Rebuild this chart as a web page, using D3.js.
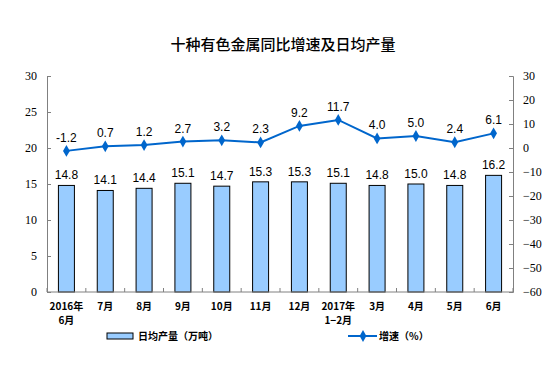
<!DOCTYPE html>
<html><head><meta charset="utf-8">
<script src="https://cdn.jsdelivr.net/npm/d3@7"></script>
<style>body{margin:0;background:#fff}svg{display:block}</style>
</head><body>
<script>
const categories = [["2016年","6月"],["7月"],["8月"],["9月"],["10月"],["11月"],["12月"],["2017年","1−2月"],["3月"],["4月"],["5月"],["6月"]];
const output = [14.8,14.1,14.4,15.1,14.7,15.3,15.3,15.1,14.8,15.0,14.8,16.2];
const growth = [-1.2,0.7,1.2,2.7,3.2,2.3,9.2,11.7,4.0,5.0,2.4,6.1];
const leftTicks = [0,5,10,15,20,25,30];
const rightTicks = [-60,-50,-40,-30,-20,-10,0,10,20,30];

const W=550,H=367;
const svg=d3.select("body").append("svg").attr("width",W).attr("height",H);
const L=47,R=513,T=76,B=292;
const x=d3.scaleBand().domain(d3.range(categories.length)).range([L,R]);
const yL=d3.scaleLinear().domain([0,30]).range([B,T]);
const yR=d3.scaleLinear().domain([-60,30]).range([B,T]);
const cjk="'Noto Sans CJK SC', sans-serif";
const numF="'Liberation Serif','Times New Roman',serif";

svg.append("text").attr("x",283).attr("y",50).attr("text-anchor","middle")
  .style("font-family",cjk).style("font-size","15px").style("font-weight","500").text("十种有色金属同比增速及日均产量");

// bars
svg.selectAll("rect.bar").data(output).join("rect").attr("class","bar")
  .attr("x",(d,i)=>x(i)+x.bandwidth()/2-8).attr("width",16)
  .attr("y",d=>yL(d)).attr("height",d=>B-yL(d))
  .attr("fill","#99CCFF").attr("stroke","#000").attr("stroke-width",1);
svg.selectAll("text.bl").data(output).join("text").attr("class","bl")
  .attr("x",(d,i)=>x(i)+x.bandwidth()/2).attr("y",d=>yL(d)-6)
  .attr("text-anchor","middle").style("font-family","Arial, 'Liberation Sans', sans-serif").style("font-size","12px")
  .text(d=>d.toFixed(1));

// axes
const axL=svg.append("g").attr("transform",`translate(${L},0)`).call(d3.axisRight(yL).tickValues(leftTicks).tickSize(4).tickFormat(d3.format("d")));
axL.selectAll("text").attr("x",-10).attr("text-anchor","end");
const axR=svg.append("g").attr("transform",`translate(${R},0)`).call(d3.axisLeft(yR).tickValues(rightTicks).tickSize(4).tickFormat(d3.format("d")));
axR.selectAll("text").attr("x",10).attr("text-anchor","start");
[axL,axR].forEach(a=>{a.select(".domain").attr("stroke","#808080");a.selectAll(".tick line").attr("stroke","#808080");
  a.selectAll("text").style("font-family",numF).style("font-size","12px").attr("fill","#000");});

const axB=svg.append("g").attr("transform",`translate(0,${B})`);
axB.append("line").attr("x1",L).attr("x2",R).attr("stroke","#808080");
axB.selectAll("line.t").data(d3.range(categories.length+1)).join("line").attr("class","t")
  .attr("x1",i=>L+i*x.step()).attr("x2",i=>L+i*x.step()).attr("y1",0).attr("y2",-4).attr("stroke","#808080");
const cl=svg.selectAll("text.cat").data(categories).join("text").attr("class","cat")
  .attr("text-anchor","middle").style("font-family",cjk).style("font-size","10px").style("font-weight","bold");
cl.each(function(d,i){
  const t=d3.select(this);
  d.forEach((s,j)=>t.append("tspan").attr("x",x(i)+x.bandwidth()/2).attr("y",310+j*14).text(s));
});

// line
const line=d3.line().x((d,i)=>x(i)+x.bandwidth()/2).y(d=>yR(d));
svg.append("path").datum(growth).attr("d",line).attr("fill","none").attr("stroke","#0066CC").attr("stroke-width",2);
const diamond=d3.symbol().type(d3.symbolDiamond).size(40);
svg.selectAll("path.m").data(growth).join("path").attr("class","m")
  .attr("transform",(d,i)=>`translate(${x(i)+x.bandwidth()/2},${yR(d)})`).attr("d",diamond).attr("fill","#0066CC");
svg.selectAll("text.ll").data(growth).join("text").attr("class","ll")
  .attr("x",(d,i)=>x(i)+x.bandwidth()/2).attr("y",d=>yR(d)-9)
  .attr("text-anchor","middle").style("font-family","Arial, 'Liberation Sans', sans-serif").style("font-size","12px")
  .text(d=>d.toFixed(1));

// legend
svg.append("rect").attr("x",107).attr("y",333).attr("width",26).attr("height",6).attr("fill","#99CCFF").attr("stroke","#000");
svg.append("text").attr("x",138).attr("y",340).style("font-family",cjk).style("font-size","10px").style("font-weight","bold").text("日均产量（万吨）");
svg.append("line").attr("x1",348).attr("x2",377).attr("y1",336).attr("y2",336).attr("stroke","#0066CC").attr("stroke-width",2);
svg.append("path").attr("transform","translate(363,336)").attr("d",diamond).attr("fill","#0066CC");
svg.append("text").attr("x",379).attr("y",340).style("font-family",cjk).style("font-size","10px").style("font-weight","bold").text("增速（%）");
</script>
</body></html>
